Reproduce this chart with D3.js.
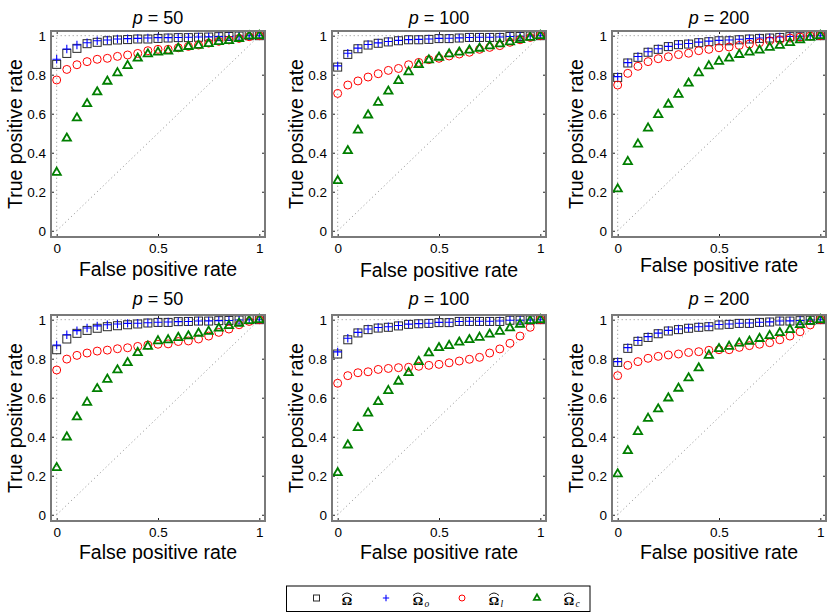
<!DOCTYPE html>
<html><head><meta charset="utf-8">
<script src="https://cdn.jsdelivr.net/npm/d3@7"></script>
<style>body{margin:0;background:#fff}svg{display:block}</style>
</head><body>
<svg id="chart" width="830" height="613"></svg>
<script>
const fpr = [0,0.05,0.1,0.15,0.2,0.25,0.3,0.35,0.4,0.45,0.5,0.55,0.6,0.65,0.7,0.75,0.8,0.85,0.9,0.95,1];
const xTicks = [0, 0.5, 1];
const yTicks = [0, 0.2, 0.4, 0.6, 0.8, 1];
const xTickLabels = ["0", "0.5", "1"];
const yTickLabels = ["0", "0.2", "0.4", "0.6", "0.8", "1"];
const titles = ["50", "100", "200", "50", "100", "200"];

// top row
const a50_hat = [0.853,0.909,0.935,0.959,0.966,0.974,0.978,0.980,0.983,0.983,0.986,0.988,0.990,0.990,0.992,0.993,0.995,0.996,0.998,1.0,1.0];
const a50_o   = [0.879,0.932,0.952,0.964,0.974,0.978,0.983,0.985,0.986,0.988,0.990,0.990,0.991,0.992,0.993,0.994,0.995,0.996,0.998,1.0,1.0];
const a50_l   = [0.773,0.827,0.851,0.867,0.879,0.884,0.894,0.901,0.909,0.923,0.930,0.930,0.938,0.945,0.952,0.962,0.971,0.978,0.986,0.995,1.0];
const a50_c   = [0.299,0.474,0.578,0.651,0.711,0.766,0.809,0.846,0.884,0.906,0.915,0.920,0.935,0.944,0.950,0.959,0.969,0.974,0.985,0.998,1.0];

const a100_hat = [0.839,0.904,0.933,0.952,0.961,0.968,0.974,0.979,0.979,0.981,0.985,0.985,0.988,0.991,0.991,0.991,0.991,0.996,0.996,0.998,1.0];
const a100_o   = [0.845,0.910,0.936,0.955,0.963,0.970,0.976,0.980,0.981,0.983,0.986,0.987,0.989,0.991,0.992,0.992,0.993,0.996,0.997,0.998,1.0];
const a100_l   = [0.704,0.747,0.768,0.788,0.805,0.822,0.832,0.851,0.863,0.877,0.884,0.896,0.906,0.915,0.930,0.940,0.949,0.966,0.979,0.991,1.0];
const a100_c   = [0.256,0.410,0.515,0.593,0.658,0.715,0.769,0.814,0.851,0.875,0.889,0.906,0.915,0.925,0.935,0.947,0.957,0.968,0.979,0.991,1.0];

const a200_hat = [0.786,0.860,0.889,0.915,0.930,0.944,0.954,0.957,0.964,0.969,0.974,0.974,0.979,0.983,0.986,0.988,0.991,0.995,0.997,1.0,1.0];
const a200_o   = [0.790,0.862,0.893,0.918,0.933,0.945,0.956,0.960,0.967,0.972,0.976,0.978,0.982,0.985,0.988,0.990,0.993,0.996,0.997,1.0,1.0];
const a200_l   = [0.747,0.807,0.843,0.867,0.882,0.892,0.903,0.910,0.923,0.930,0.938,0.942,0.950,0.957,0.964,0.974,0.979,0.988,0.993,0.998,1.0];
const a200_c   = [0.214,0.354,0.444,0.526,0.595,0.648,0.699,0.756,0.809,0.845,0.868,0.884,0.903,0.915,0.925,0.940,0.950,0.964,0.978,0.991,1.0];

// bottom row
const b50_hat = [0.846,0.901,0.930,0.945,0.956,0.964,0.969,0.974,0.978,0.983,0.986,0.986,0.990,0.991,0.993,0.993,0.995,0.996,0.998,1.0,1.0];
const b50_o   = [0.870,0.923,0.944,0.957,0.968,0.974,0.978,0.981,0.982,0.984,0.987,0.988,0.990,0.991,0.993,0.994,0.995,0.996,0.998,1.0,1.0];
const b50_l   = [0.742,0.798,0.817,0.829,0.839,0.844,0.851,0.856,0.863,0.870,0.874,0.876,0.888,0.891,0.901,0.916,0.935,0.952,0.974,0.991,1.0];
const b50_c   = [0.241,0.398,0.501,0.576,0.646,0.694,0.742,0.779,0.831,0.863,0.891,0.896,0.908,0.916,0.930,0.940,0.956,0.969,0.981,0.995,1.0];

const b100_hat = [0.824,0.897,0.932,0.949,0.957,0.961,0.968,0.976,0.979,0.981,0.985,0.985,0.991,0.991,0.991,0.991,0.991,0.997,0.997,0.998,1.0];
const b100_o   = [0.835,0.905,0.935,0.952,0.960,0.964,0.970,0.977,0.980,0.982,0.986,0.987,0.991,0.992,0.992,0.992,0.993,0.997,0.997,0.998,1.0];
const b100_l   = [0.674,0.713,0.728,0.733,0.745,0.750,0.754,0.756,0.761,0.766,0.771,0.779,0.788,0.797,0.807,0.829,0.850,0.879,0.916,0.961,1.0];
const b100_c   = [0.215,0.357,0.446,0.521,0.579,0.636,0.684,0.728,0.785,0.829,0.856,0.867,0.884,0.897,0.909,0.925,0.940,0.957,0.976,0.995,1.0];

const b200_hat = [0.781,0.853,0.889,0.909,0.928,0.942,0.949,0.956,0.961,0.964,0.973,0.976,0.981,0.981,0.986,0.988,0.993,0.993,0.995,0.997,1.0];
const b200_o   = [0.785,0.857,0.893,0.913,0.931,0.945,0.952,0.958,0.964,0.967,0.975,0.978,0.982,0.983,0.987,0.989,0.993,0.994,0.996,0.998,1.0];
const b200_l   = [0.713,0.766,0.785,0.802,0.812,0.819,0.824,0.832,0.836,0.843,0.846,0.846,0.858,0.867,0.874,0.882,0.897,0.916,0.938,0.973,1.0];
const b200_c   = [0.209,0.328,0.426,0.494,0.542,0.598,0.648,0.701,0.752,0.817,0.851,0.863,0.879,0.889,0.903,0.918,0.933,0.949,0.974,0.991,1.0];

const panelSeries = [
  [a50_hat, a50_o, a50_l, a50_c],
  [a100_hat, a100_o, a100_l, a100_c],
  [a200_hat, a200_o, a200_l, a200_c],
  [b50_hat, b50_o, b50_l, b50_c],
  [b100_hat, b100_o, b100_l, b100_c],
  [b200_hat, b200_o, b200_l, b200_c]
];
const seriesSubs = ["", "o", "l", "c"];

// ---- layout ----
const colLeft = [51, 332, 612];
const rowTop = [31, 315];
const boxW = 214, boxH = 206;
const titleBase = [24, 305];
const xLabelBase = [[276, 277, 272], [559, 559, 559]];
const FONT = "'Liberation Sans', Arial, Helvetica, sans-serif";
const SERIF = "'Liberation Serif', 'DejaVu Serif', 'Times New Roman', serif";
const colors = {sq: "#2a2a2a", plus: "#0000ff", circ: "#ff0000", tri: "#007f00"};

const svg = d3.select("#chart");

function drawMarker(g, type, x, y, scale) {
  const s = scale || 1;
  if (type === 0) {
    const h = 4 * s;
    g.append("rect").attr("x", x - h).attr("y", y - h).attr("width", 2 * h).attr("height", 2 * h)
      .attr("fill", "none").attr("stroke", colors.sq).attr("stroke-width", 1);
  } else if (type === 1) {
    const h = 4.2 * s;
    g.append("path").attr("d", `M${x - h},${y}H${x + h}M${x},${y - h}V${y + h}`)
      .attr("fill", "none").attr("stroke", colors.plus).attr("stroke-width", 1.1);
  } else if (type === 2) {
    g.append("circle").attr("cx", x).attr("cy", y).attr("r", 4 * s)
      .attr("fill", "none").attr("stroke", colors.circ).attr("stroke-width", 1);
  } else {
    g.append("path").attr("d", d3.symbol(d3.symbolTriangle, 30 * s * s)())
      .attr("transform", `translate(${x},${y})`)
      .attr("fill", "none").attr("stroke", colors.tri).attr("stroke-width", 1.8)
      .attr("stroke-linejoin", "miter");
  }
}

panelSeries.forEach((series, i) => {
  const row = Math.floor(i / 3), col = i % 3;
  const L = colLeft[col], T = rowTop[row];
  const x = d3.scaleLinear().domain([-0.028, 1.028]).range([L, L + boxW]);
  const y = d3.scaleLinear().domain([-0.032, 1.024]).range([T + boxH, T]);
  const g = svg.append("g");

  // reference dotted lines
  const ref = g.append("g").attr("stroke", "#8a8a8a").attr("stroke-width", 1)
    .attr("stroke-dasharray", "1,3").attr("fill", "none");
  ref.append("line").attr("x1", x(0)).attr("y1", y(1)).attr("x2", x(1)).attr("y2", y(1));
  ref.append("line").attr("x1", x(0)).attr("y1", y(0)).attr("x2", x(0)).attr("y2", y(1));
  ref.append("line").attr("x1", x(0)).attr("y1", y(0)).attr("x2", x(1)).attr("y2", y(1));

  // axes (ticks inward)
  const axB = d3.axisBottom(x).tickValues(xTicks).tickSize(-3).tickFormat((d, k) => xTickLabels[k]);
  const axT = d3.axisTop(x).tickValues(xTicks).tickSize(-3).tickFormat("");
  const axL = d3.axisLeft(y).tickValues(yTicks).tickSize(-3).tickFormat((d, k) => yTickLabels[k]);
  const axR = d3.axisRight(y).tickValues(yTicks).tickSize(-3).tickFormat("");
  const gB = g.append("g").attr("transform", `translate(0,${T + boxH})`).call(axB);
  const gT = g.append("g").attr("transform", `translate(0,${T})`).call(axT);
  const gL = g.append("g").attr("transform", `translate(${L},0)`).call(axL);
  const gR = g.append("g").attr("transform", `translate(${L + boxW},0)`).call(axR);
  [gB, gT, gL, gR].forEach(a => {
    a.select(".domain").remove();
    a.selectAll(".tick line").attr("stroke", "#222").attr("stroke-width", 1);
    a.selectAll("text").attr("font-family", FONT).attr("font-size", 13.5).attr("fill", "#000");
  });
  gB.selectAll("text").attr("dy", null).attr("y", 15.5);
  gL.selectAll("text").attr("x", -5).attr("dy", "0.36em");

  // markers
  series.forEach((vals, sIdx) => {
    const mg = g.append("g");
    vals.forEach((v, k) => drawMarker(mg, sIdx, x(fpr[k]), y(v)));
  });

  // box
  g.append("rect").attr("x", L).attr("y", T).attr("width", boxW).attr("height", boxH)
    .attr("fill", "none").attr("stroke", "#7a7a7a").attr("stroke-width", 2);

  // title
  const t = g.append("text").attr("x", L + boxW / 2).attr("y", titleBase[row])
    .attr("text-anchor", "middle").attr("font-family", FONT).attr("font-size", 18);
  t.append("tspan").attr("font-style", "italic").text("p");
  t.append("tspan").text(" = " + titles[i]);

  // axis labels
  g.append("text").attr("x", L + boxW / 2).attr("y", xLabelBase[row][col])
    .attr("text-anchor", "middle").attr("font-family", FONT).attr("font-size", 19.5)
    .text("False positive rate");
  g.append("text").attr("transform", `translate(${L - 29},${T + boxH / 2}) rotate(-90)`)
    .attr("text-anchor", "middle").attr("font-family", FONT).attr("font-size", 19.5)
    .text("True positive rate");
});

// ---- legend ----
const lg = svg.append("g");
lg.append("rect").attr("x", 286.5).attr("y", 586).attr("width", 303.5).attr("height", 25.5)
  .attr("fill", "#fff").attr("stroke", "#000").attr("stroke-width", 1);
const legMarkX = [316.5, 386, 462, 537];
const legTextX = [347, 418, 494, 569];
const ly = 598;
seriesSubs.forEach((sub, k) => {
  drawMarker(lg, k, legMarkX[k], ly, 0.75);
  const cx = legTextX[k];
  lg.append("text").attr("x", cx).attr("y", ly + 7).attr("text-anchor", "middle")
    .attr("font-family", SERIF).attr("font-weight", "bold").attr("font-size", 13).text("Ω");
  lg.append("path").attr("d", `M${cx - 5},${ly - 2.5}Q${cx},${ly - 7.5} ${cx + 5},${ly - 2.5}`)
    .attr("fill", "none").attr("stroke", "#000").attr("stroke-width", 0.9);
  if (sub) {
    lg.append("text").attr("x", cx + 6.5).attr("y", ly + 9).attr("font-family", SERIF)
      .attr("font-style", "italic").attr("font-size", 9.5).text(sub);
  }
});
</script>
</body></html>
